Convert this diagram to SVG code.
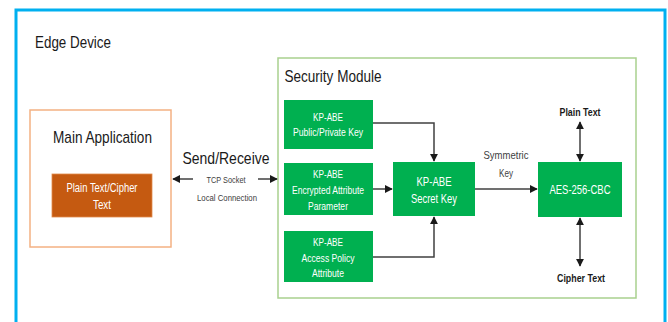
<svg xmlns="http://www.w3.org/2000/svg" width="668" height="322" viewBox="0 0 668 322">
<defs>
<style>
text{font-family:"Liberation Sans",Arial,sans-serif;text-anchor:middle}
.lbl{fill:#1a1a1a}
.w{fill:#ffffff}
.g{fill:#00b050}
.ln{stroke:#404040;stroke-width:1.5;fill:none}
</style>
<marker id="ah" viewBox="0 0 10 10" refX="9" refY="5" markerWidth="5.5" markerHeight="5.5" orient="auto-start-reverse">
<path d="M0,0 L10,5 L0,10 z" fill="#1a1a1a"/>
</marker>
</defs>
<rect width="668" height="322" fill="#ffffff"/>
<g id="edge-device">
<rect x="16" y="10" width="649" height="320" fill="none" stroke="#00b0f0" stroke-width="3"/>
<text class="lbl" x="73" y="48" font-size="17" textLength="76" lengthAdjust="spacingAndGlyphs">Edge Device</text>
</g>
<g id="security-module">
<rect x="278" y="58" width="358" height="240" fill="none" stroke="#a9d18e" stroke-width="1.5"/>
<text class="lbl" x="333" y="82" font-size="17" textLength="97" lengthAdjust="spacingAndGlyphs">Security Module</text>
</g>
<g id="main-application">
<rect x="30" y="110" width="141" height="137" fill="none" stroke="#f4b183" stroke-width="1.5"/>
<text class="lbl" x="102.5" y="143" font-size="17" textLength="99" lengthAdjust="spacingAndGlyphs">Main Application</text>
</g>
<g id="plain-cipher">
<rect x="52" y="174" width="100" height="43" fill="#c55a11" stroke="#e08a4c" stroke-width="0.8"/>
<text class="w" x="102" y="192" font-size="12.5" textLength="71" lengthAdjust="spacingAndGlyphs">Plain Text/Cipher</text>
<text class="w" x="102" y="209" font-size="12.5" textLength="18" lengthAdjust="spacingAndGlyphs">Text</text>
</g>
<g id="pubpriv">
<rect class="g" x="284" y="100" width="89" height="49"/>
<text class="w" x="328" y="121" font-size="10.5" textLength="30" lengthAdjust="spacingAndGlyphs">KP-ABE</text>
<text class="w" x="328" y="136" font-size="10.5" textLength="70" lengthAdjust="spacingAndGlyphs">Public/Private Key</text>
</g>
<g id="encattr">
<rect class="g" x="284" y="163" width="89" height="52"/>
<text class="w" x="328" y="178" font-size="10.5" textLength="30" lengthAdjust="spacingAndGlyphs">KP-ABE</text>
<text class="w" x="328" y="194" font-size="10.5" textLength="72" lengthAdjust="spacingAndGlyphs">Encrypted Attribute</text>
<text class="w" x="328" y="210" font-size="10.5" textLength="40" lengthAdjust="spacingAndGlyphs">Parameter</text>
</g>
<g id="accpol">
<rect class="g" x="284" y="231" width="89" height="51"/>
<text class="w" x="328" y="246" font-size="10.5" textLength="30" lengthAdjust="spacingAndGlyphs">KP-ABE</text>
<text class="w" x="328" y="262" font-size="10.5" textLength="53" lengthAdjust="spacingAndGlyphs">Access Policy</text>
<text class="w" x="328" y="277" font-size="10.5" textLength="32" lengthAdjust="spacingAndGlyphs">Attribute</text>
</g>
<g id="secretkey">
<rect class="g" x="393" y="162" width="82" height="54"/>
<text class="w" x="434" y="186" font-size="13.5" textLength="35" lengthAdjust="spacingAndGlyphs">KP-ABE</text>
<text class="w" x="434" y="203" font-size="13.5" textLength="46" lengthAdjust="spacingAndGlyphs">Secret Key</text>
</g>
<g id="aes">
<rect class="g" x="538" y="162" width="84" height="55"/>
<text class="w" x="580" y="194" font-size="13.5" textLength="61" lengthAdjust="spacingAndGlyphs">AES-256-CBC</text>
</g>
<g id="plain-text-label">
<text class="lbl" x="580" y="116" font-size="11.5" font-weight="bold" textLength="41" lengthAdjust="spacingAndGlyphs">Plain Text</text>
</g>
<g id="cipher-text-label">
<text class="lbl" x="581" y="282" font-size="11.5" font-weight="bold" textLength="48" lengthAdjust="spacingAndGlyphs">Cipher Text</text>
</g>
<g id="connectors">
<line class="ln" x1="193" y1="179" x2="173" y2="179" marker-end="url(#ah)"/>
<line class="ln" x1="258" y1="179" x2="277" y2="179" marker-end="url(#ah)"/>
<text class="lbl" x="226" y="164" font-size="17" textLength="87" lengthAdjust="spacingAndGlyphs">Send/Receive</text>
<text fill="#404040" x="226" y="183" font-size="9.5" textLength="39" lengthAdjust="spacingAndGlyphs">TCP Socket</text>
<text fill="#404040" x="227" y="201" font-size="9.5" textLength="60" lengthAdjust="spacingAndGlyphs">Local Connection</text>
<polyline class="ln" points="373,123 434,123 434,161" marker-end="url(#ah)"/>
<line class="ln" x1="373" y1="189" x2="392" y2="189" marker-end="url(#ah)"/>
<polyline class="ln" points="373,257 434,257 434,217" marker-end="url(#ah)"/>
<line class="ln" x1="475" y1="189" x2="537" y2="189" marker-end="url(#ah)"/>
<text fill="#404040" x="506" y="159" font-size="10.5" textLength="45" lengthAdjust="spacingAndGlyphs">Symmetric</text>
<text fill="#404040" x="506" y="177" font-size="10.5" textLength="14" lengthAdjust="spacingAndGlyphs">Key</text>
<line class="ln" x1="580" y1="122" x2="580" y2="161" marker-start="url(#ah)" marker-end="url(#ah)"/>
<line class="ln" x1="580" y1="218" x2="580" y2="266" marker-start="url(#ah)" marker-end="url(#ah)"/>
</g>
</svg>
